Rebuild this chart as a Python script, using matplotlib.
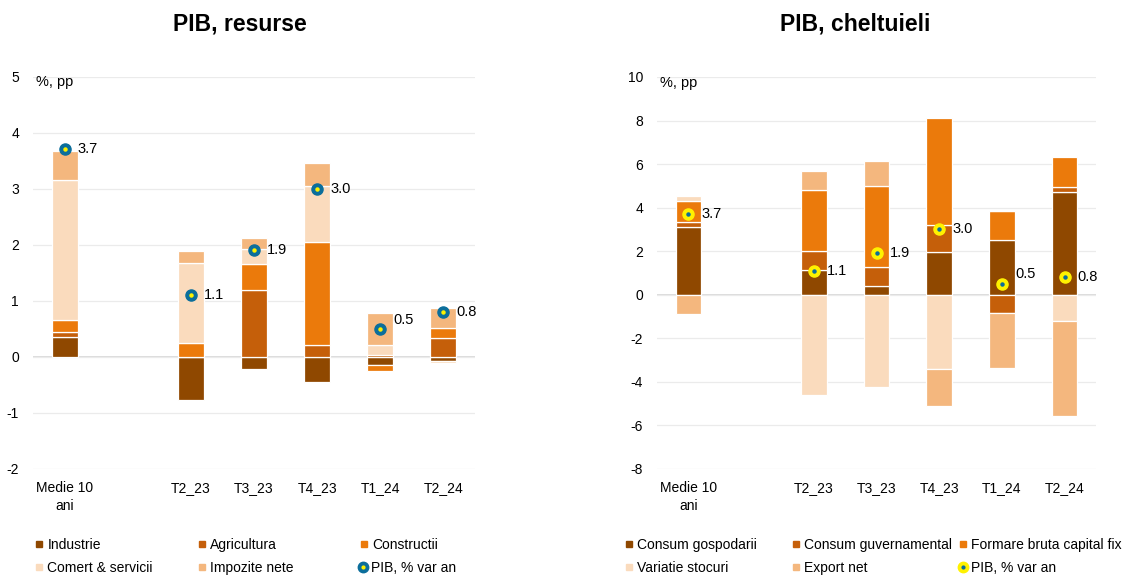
import numpy as np
import matplotlib.pyplot as plt
from matplotlib.lines import Line2D

plt.rcParams['font.family'] = ['Liberation Sans', 'DejaVu Sans']
plt.rcParams['font.size'] = 10
plt.rcParams['axes.unicode_minus'] = False

# ---- data -------------------------------------------------------------
categories = ["Medie 10\nani", "", "T2_23", "T3_23", "T4_23", "T1_24", "T2_24"]
nan = np.nan

# PIB, resurse (contributii, pp)
industrie = [0.35, nan, -0.77, -0.22, -0.45, -0.15, -0.07]
agricultura = [0.10, nan, 0.00, 1.20, 0.21, 0.03, 0.33]
constructii = [0.21, nan, 0.25, 0.45, 1.84, -0.10, 0.19]
comert = [2.49, nan, 1.43, 0.27, 0.99, 0.19, -0.04]
impozite = [0.52, nan, 0.21, 0.20, 0.42, 0.57, 0.36]
pib_res = [3.7, nan, 1.1, 1.9, 3.0, 0.5, 0.8]

# PIB, cheltuieli (contributii, pp)
consum_gosp = [3.13, nan, 1.15, 0.40, 1.96, 2.52, 4.71]
consum_guv = [0.22, nan, 0.87, 0.88, 1.25, -0.83, 0.23]
fbcf = [0.96, nan, 2.78, 3.72, 4.92, 1.33, 1.39]
var_stocuri = [0.23, nan, -4.60, -4.25, -3.39, 0.00, -1.22]
export_net = [-0.90, nan, 0.90, 1.16, -1.73, -2.53, -4.33]
pib_chel = [3.7, nan, 1.1, 1.9, 3.0, 0.5, 0.8]

c_dark = '#8F4800'
c_agri = '#C55F0A'
c_orange = '#EB7A0B'
c_light = '#FADBBD'
c_peach = '#F4B77E'
c_blue = '#0B6E9B'
c_yellow = '#FFF200'

W, H = 1125, 575
fig = plt.figure(figsize=(W / 100, H / 100), dpi=100)


def px_axes(x0, x1, ytop, ybot):
    return fig.add_axes([x0 / W, 1 - ybot / H, (x1 - x0) / W, (ybot - ytop) / H])


def stacked(ax, series, colors):
    x = np.arange(len(categories))
    pos = np.zeros(len(categories))
    neg = np.zeros(len(categories))
    for vals, col in zip(series, colors):
        v = np.array(vals, dtype=float)
        bottom = np.where(v >= 0, pos, neg)
        ax.bar(x, v, 0.41, bottom=bottom, color=col, edgecolor='white',
               linewidth=0.9, zorder=2)
        pos = pos + np.where(v > 0, np.nan_to_num(v), 0)
        neg = neg + np.where(v < 0, np.nan_to_num(v), 0)


def style(ax, ylim, step):
    ax.set_xlim(-0.5, len(categories) - 0.5)
    ax.set_ylim(*ylim)
    ax.set_yticks(np.arange(ylim[0], ylim[1] + step / 2, step))
    ax.set_xticks(np.arange(len(categories)))
    ax.set_xticklabels(categories, linespacing=1.35)
    ax.tick_params(axis='both', length=0, labelsize=10, colors='#000000')
    ax.tick_params(axis='y', pad=10)
    ax.tick_params(axis='x', pad=9)
    for s in ax.spines.values():
        s.set_visible(False)
    ax.grid(axis='y', color='#EBEBEB', linewidth=0.9, zorder=0)
    ax.axhline(0, color='#D4D4D4', linewidth=1.2, zorder=1)
    ax.text(0.007, 1.003, "%, pp", transform=ax.transAxes, ha='left',
            va='top', fontsize=10.5)


def pib_points(ax, vals, outer, inner, dy):
    x = np.arange(len(categories))
    ax.plot(x, vals, 'o', ms=8, color=outer, mec=outer, zorder=4)
    ax.plot(x, vals, 'o', ms=2.2, color=inner, mec=inner, zorder=5)
    for i, v in enumerate(vals):
        if np.isnan(v):
            continue
        ax.annotate(f"{v:.1f}", (i, v), xytext=(9.5, dy[i]),
                    textcoords='offset points', ha='left', va='center',
                    fontsize=10.5, zorder=6)


# ---- left chart -------------------------------------------------------
ax1 = px_axes(33, 475, 76.5, 469)
stacked(ax1, [industrie, agricultura, constructii, comert, impozite],
        [c_dark, c_agri, c_orange, c_light, c_peach])
style(ax1, (-2, 5), 1)
pib_points(ax1, pib_res, c_blue, c_yellow, [0, 0, 0, 0, 0, 6, 0])
fig.text(240 / W, 1 - 24 / H, "PIB, resurse", ha='center', va='center',
         fontsize=16.5, fontweight='bold')

# ---- right chart ------------------------------------------------------
ax2 = px_axes(657, 1096, 77, 469)
stacked(ax2, [consum_gosp, consum_guv, fbcf, var_stocuri, export_net],
        [c_dark, c_agri, c_orange, c_light, c_peach])
style(ax2, (-8, 10), 2)
pib_points(ax2, pib_chel, c_yellow, c_blue, [0, 0, 0, 0, 0, 7, 0])
fig.text(855 / W, 1 - 24 / H, "PIB, cheltuieli", ha='center', va='center',
         fontsize=16.5, fontweight='bold')


# ---- legends (one entry each, placed like the original) ---------------
def square(col):
    return Line2D([], [], marker='s', ls='none', ms=5, color=col, mec=col)


def pib_handle(outer, inner):
    return (Line2D([], [], marker='o', ls='none', ms=7.5, color=outer, mec=outer),
            Line2D([], [], marker='o', ls='none', ms=2, color=inner, mec=inner))


def entry(handle, label, xc, yc):
    leg = fig.legend([handle], [label], loc='center left',
                     bbox_to_anchor=((xc - 3.5) / W, 1 - yc / H),
                     frameon=False, borderpad=0, borderaxespad=0,
                     handlelength=0.5, handletextpad=0.35, fontsize=10)
    return leg


left_items = [
    (square(c_dark), "Industrie", 39, 545),
    (square(c_agri), "Agricultura", 202, 545),
    (square(c_orange), "Constructii", 364, 545),
    (square(c_light), "Comert & servicii", 39, 568),
    (square(c_peach), "Impozite nete", 202, 568),
    (pib_handle(c_blue, c_yellow), "PIB, % var an", 363, 568),
]
right_items = [
    (square(c_dark), "Consum gospodarii", 629, 545),
    (square(c_agri), "Consum guvernamental", 796, 545),
    (square(c_orange), "Formare bruta capital fix", 963, 545),
    (square(c_light), "Variatie stocuri", 629, 568),
    (square(c_peach), "Export net", 796, 568),
    (pib_handle(c_yellow, c_blue), "PIB, % var an", 963, 568),
]
for h, lab, xc, yc in left_items + right_items:
    entry(h, lab, xc, yc)

fig.savefig("out.png", dpi=100, facecolor='white')
